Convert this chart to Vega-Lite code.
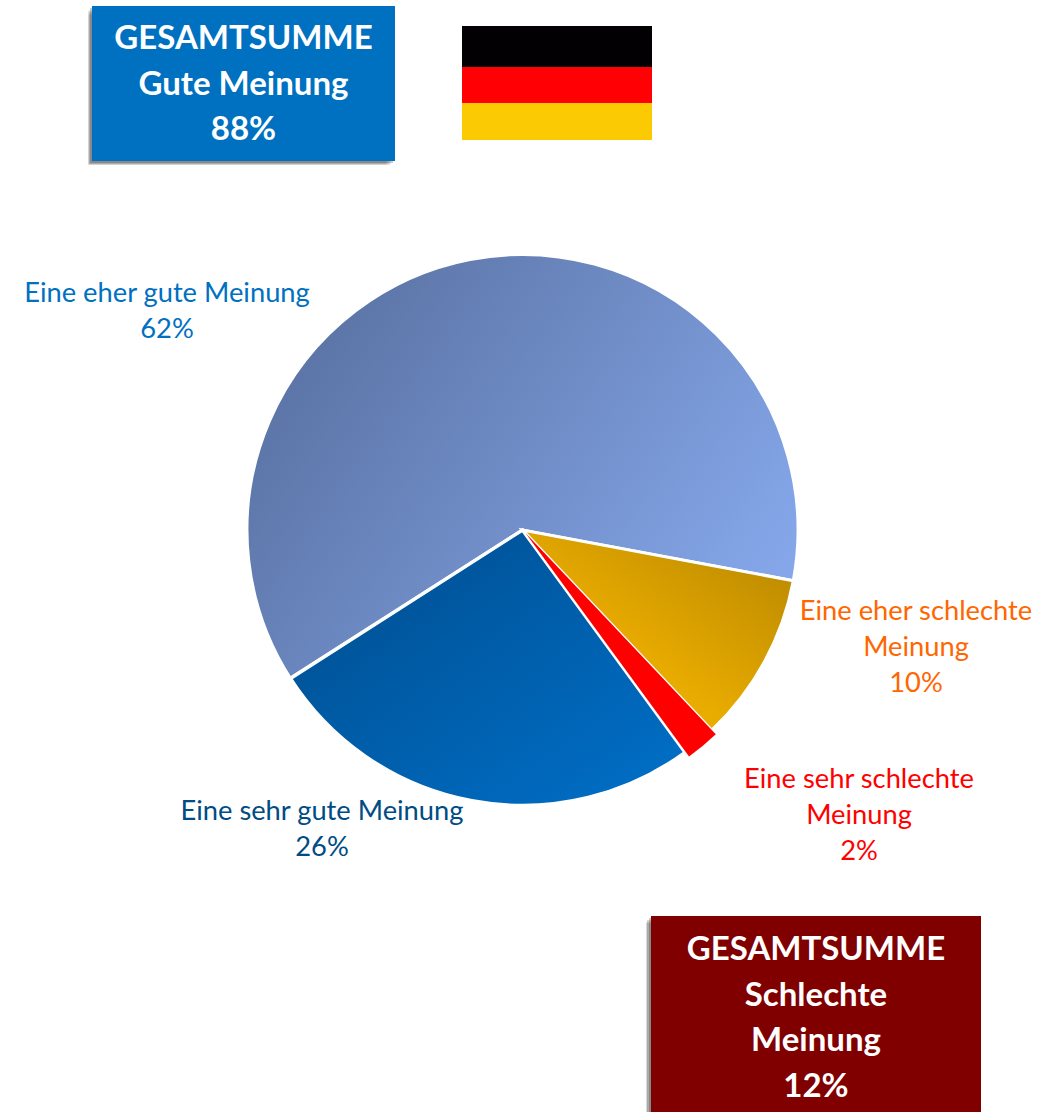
{
"$schema":"https://vega.github.io/schema/vega-lite/v6.json",
"width":1049,"height":1112,"padding":0,"autosize":{"type":"none"},
"background":"white",
"config":{"view":{"stroke":null}},
"datasets":{
"meinung":[
{"land":"Deutschland","meinung":"Eine eher schlechte Meinung","anteil":10,"ordnung":1},
{"land":"Deutschland","meinung":"Eine sehr schlechte Meinung","anteil":2,"ordnung":2},
{"land":"Deutschland","meinung":"Eine sehr gute Meinung","anteil":26,"ordnung":3},
{"land":"Deutschland","meinung":"Eine eher gute Meinung","anteil":62,"ordnung":4}],
"labels":[
{"ordnung":1,"meinung":"Eine eher schlechte Meinung","text":"Eine eher schlechte\nMeinung\n10%"},
{"ordnung":2,"meinung":"Eine sehr schlechte Meinung","text":"Eine sehr schlechte\nMeinung\n2%"},
{"ordnung":3,"meinung":"Eine sehr gute Meinung","text":"Eine sehr gute Meinung\n26%"},
{"ordnung":4,"meinung":"Eine eher gute Meinung","text":"Eine eher gute Meinung\n62%"}],
"boxen":[
{"box":"Gut","text":"GESAMTSUMME\nGute Meinung\n88%"},
{"box":"Schlecht","text":"GESAMTSUMME\nSchlechte\nMeinung\n12%"}],
"flagge":[
{"land":"Deutschland","streifen":"Schwarz","hoehe":41,"reihe":1},
{"land":"Deutschland","streifen":"Rot","hoehe":36,"reihe":2},
{"land":"Deutschland","streifen":"Gold","hoehe":37,"reihe":3}]
},
"layer":[
{"data":{"name":"meinung"},
"transform":[{"stack":"anteil","groupby":["land"],"sort":[{"field":"ordnung","order":"ascending"}],"as":["von","bis"]}],
"encoding":{
"x":{"field":"land","type":"nominal","axis":null,"scale":{"type":"point","domain":["Deutschland"],"range":[522.5,522.5]}},
"y":{"field":"land","type":"nominal","axis":null,"scale":{"type":"point","domain":["Deutschland"],"range":[530,530]}},
"theta":{"field":"von","type":"quantitative","scale":{"domain":[0,100],"range":[1.756,8.039]}},
"theta2":{"field":"bis"}
},
"layer":[
{"transform":[{"filter":"datum.ordnung==4"}],"mark":{"type":"arc","outerRadius":275.5,"stroke":"white","strokeWidth":3,"color":{"gradient":"linear","x1":0.05,"y1":0.2,"x2":1,"y2":0.7,"stops":[{"offset":0,"color":"#5A72A3"},{"offset":1,"color":"#85A7EA"}]}}},
{"transform":[{"filter":"datum.ordnung==3"}],"mark":{"type":"arc","outerRadius":275.5,"stroke":"white","strokeWidth":3.5,"color":{"gradient":"linear","x1":0,"y1":0,"x2":1,"y2":1,"stops":[{"offset":0,"color":"#004C8C"},{"offset":1,"color":"#0070C9"}]}}},
{"transform":[{"filter":"datum.ordnung==1"}],"mark":{"type":"arc","outerRadius":275.5,"stroke":"white","strokeWidth":3,"color":{"gradient":"linear","x1":1,"y1":0,"x2":0,"y2":1,"stops":[{"offset":0,"color":"#B58500"},{"offset":0.6,"color":"#E8AB00"},{"offset":1,"color":"#F0B400"}]}}},
{"transform":[{"filter":"datum.ordnung==2"}],"mark":{"type":"arc","outerRadius":277,"xOffset":3,"yOffset":3,"color":"#FF0000"}}
]},
{"data":{"name":"labels"},
"mark":{"type":"text","font":"Lato","fontSize":27.3,"lineHeight":36,"lineBreak":"\n","align":"center","baseline":"middle"},
"encoding":{
"text":{"field":"text"},
"x":{"field":"ordnung","type":"quantitative","axis":null,"scale":{"domain":[1,2,3,4],"range":[916,859,322,167]}},
"y":{"field":"ordnung","type":"quantitative","axis":null,"scale":{"domain":[1,2,3,4],"range":[612,780,812,294]}},
"color":{"field":"meinung","type":"nominal","legend":null,"scale":{"domain":["Eine eher gute Meinung","Eine sehr gute Meinung","Eine sehr schlechte Meinung","Eine eher schlechte Meinung"],"range":["#0070C0","#004C85","#FF0000","#FF6600"]}}
}},
{"data":{"name":"boxen"},
"encoding":{
"x":{"field":"box","type":"nominal","axis":null,"scale":{"type":"point","domain":["Gut","Schlecht"],"range":[243.5,816],"padding":0}},
"y":{"field":"box","type":"nominal","axis":null,"scale":{"type":"point","domain":["Gut","Schlecht"],"range":[83.5,1017],"padding":0}}
},
"layer":[
{"transform":[{"filter":"datum.box=='Gut'"}],"mark":{"type":"rect","width":298,"height":150,"xOffset":-6,"yOffset":6,"color":"#000000","opacity":0.1}},
{"transform":[{"filter":"datum.box=='Gut'"}],"mark":{"type":"rect","width":300,"height":152,"xOffset":-5,"yOffset":5,"color":"#000000","opacity":0.12}},
{"transform":[{"filter":"datum.box=='Gut'"}],"mark":{"type":"rect","width":302,"height":154,"xOffset":-4,"yOffset":4,"color":"#000000","opacity":0.15}},
{"transform":[{"filter":"datum.box=='Gut'"}],"mark":{"type":"rect","width":303,"height":155,"xOffset":-2,"yOffset":2,"color":"#000000","opacity":0.2}},
{"transform":[{"filter":"datum.box=='Gut'"}],"mark":{"type":"rect","width":303,"height":155,"color":"#0070C0"}},
{"transform":[{"filter":"datum.box=='Schlecht'"}],"mark":{"type":"rect","width":328,"height":200,"xOffset":-6,"yOffset":6,"color":"#000000","opacity":0.1}},
{"transform":[{"filter":"datum.box=='Schlecht'"}],"mark":{"type":"rect","width":329,"height":201,"xOffset":-5,"yOffset":5,"color":"#000000","opacity":0.12}},
{"transform":[{"filter":"datum.box=='Schlecht'"}],"mark":{"type":"rect","width":330,"height":202,"xOffset":-4,"yOffset":4,"color":"#000000","opacity":0.15}},
{"transform":[{"filter":"datum.box=='Schlecht'"}],"mark":{"type":"rect","width":330,"height":202,"xOffset":-2,"yOffset":2,"color":"#000000","opacity":0.2}},
{"transform":[{"filter":"datum.box=='Schlecht'"}],"mark":{"type":"rect","width":330,"height":202,"color":"#800000"}}
]},
{"data":{"name":"boxen"},
"mark":{"type":"text","font":"Lato","fontWeight":"bold","fontSize":33,"lineHeight":45.5,"lineBreak":"\n","align":"center","baseline":"middle","color":"white"},
"encoding":{
"text":{"field":"text"},
"x":{"field":"box","type":"nominal","axis":null,"scale":{"type":"point","domain":["Gut","Schlecht"],"range":[243.5,816],"padding":0}},
"y":{"field":"box","type":"nominal","axis":null,"scale":{"type":"point","domain":["Gut","Schlecht"],"range":[39,950],"padding":0}}
}},
{"data":{"name":"flagge"},
"mark":{"type":"bar","width":190},
"encoding":{
"x":{"field":"land","type":"nominal","axis":null,"scale":{"type":"point","domain":["Deutschland"],"range":[557,557]}},
"y":{"field":"hoehe","type":"quantitative","stack":true,"axis":null,"scale":{"domain":[0,114],"range":[26,140]}},
"order":{"field":"reihe","type":"quantitative"},
"color":{"field":"streifen","type":"nominal","legend":null,"scale":{"domain":["Schwarz","Rot","Gold"],"range":["#020002","#FF0004","#FBCA03"]}}
}}
],
"resolve":{"scale":{"x":"independent","y":"independent","color":"independent"}}
}
